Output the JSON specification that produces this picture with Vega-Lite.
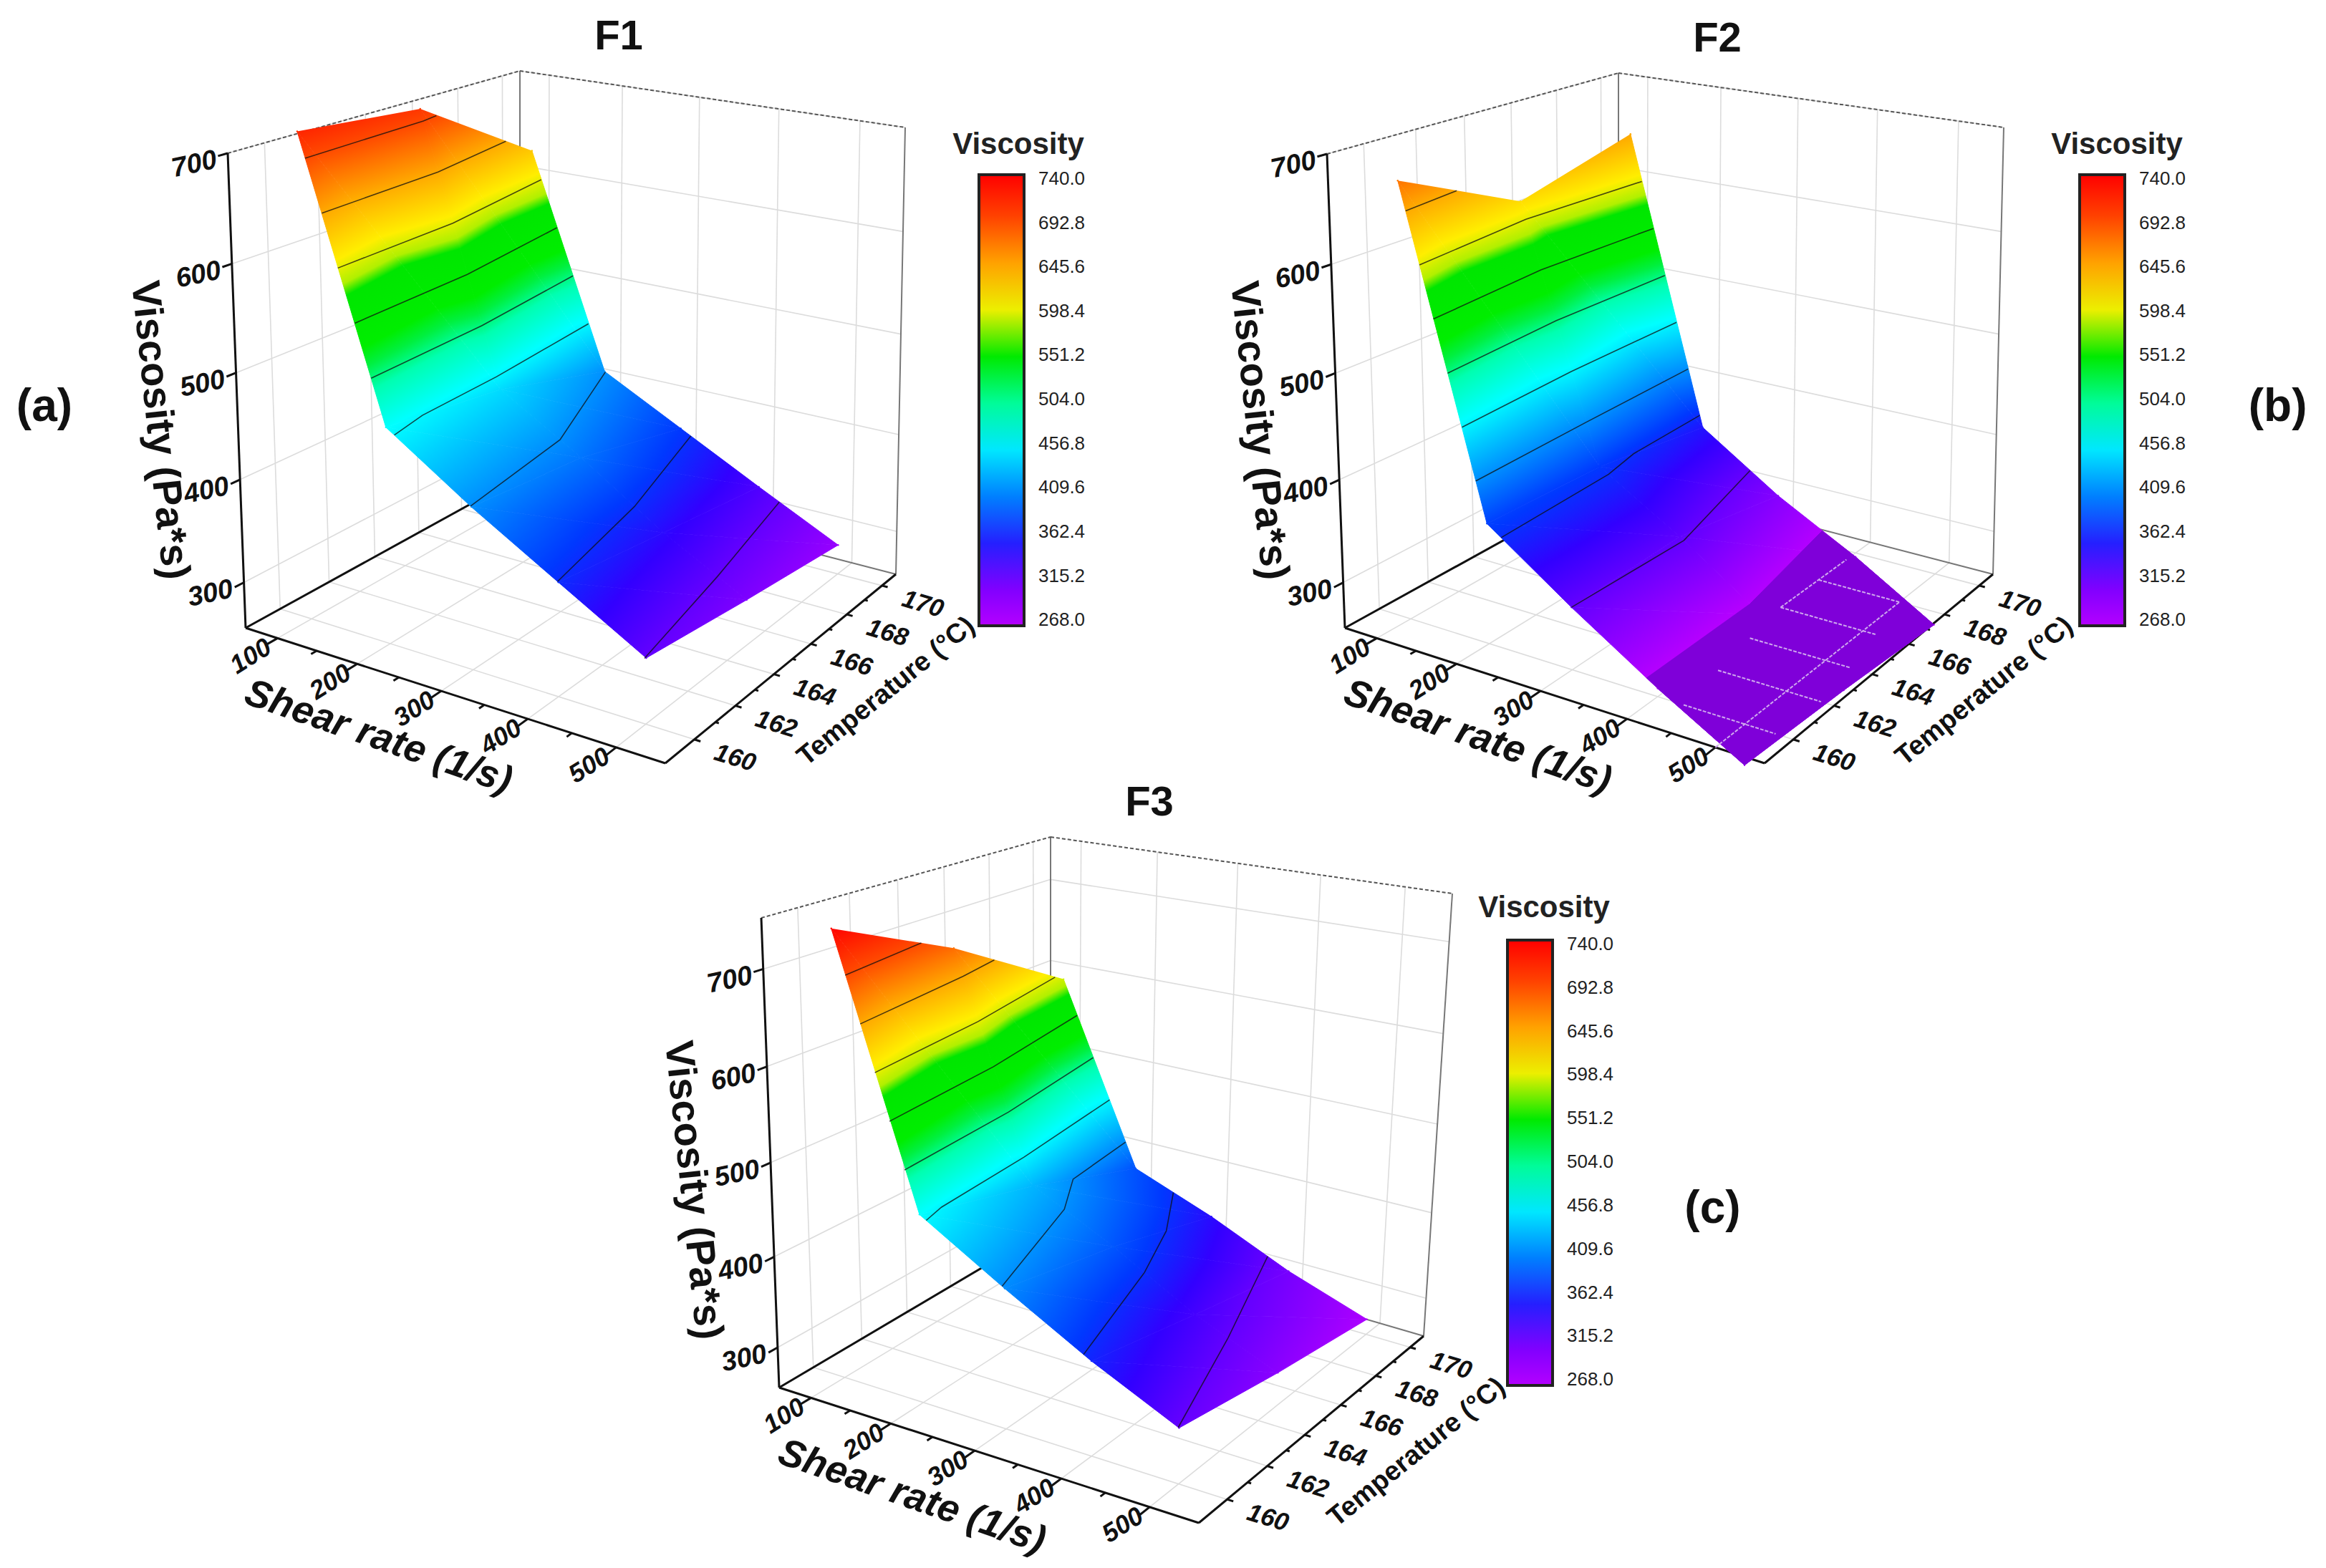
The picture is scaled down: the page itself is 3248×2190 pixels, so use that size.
{
"$schema":"https://vega.github.io/schema/vega-lite/v6.json",
"width":3248,"height":2190,"padding":0,"autosize":{"type":"none"},"background":"white",
"config":{"view":{"stroke":null},"font":"Liberation Sans"},
"params":[
{"name":"cube","value":{"F1":[343,877,929,1066,1251,802,726,666,318,214,937,331,1264,178,726,99,700],"F2":[1878,877,2464,1066,2783,802,2260,666,1853,215,2471,331,2798,178,2260,102,700],"F3":[1088,1938,1674,2127,1988,1866,1467,1714,1063,1282,1679,1422,2028,1248,1467,1169,752]}},
{"name":"stops","value":[{"offset":0,"color":"#b400ff"},{"offset":0.0996,"color":"#6400ff"},{"offset":0.1525,"color":"#3200ff"},{"offset":0.2119,"color":"#0038ff"},{"offset":0.3008,"color":"#0090ff"},{"offset":0.3644,"color":"#00d0ff"},{"offset":0.4089,"color":"#00ffff"},{"offset":0.4809,"color":"#00ffb0"},{"offset":0.5233,"color":"#00f040"},{"offset":0.5551,"color":"#00ee00"},{"offset":0.6504,"color":"#00e600"},{"offset":0.6716,"color":"#b0f000"},{"offset":0.714,"color":"#ffee00"},{"offset":0.7987,"color":"#ffaa00"},{"offset":0.9004,"color":"#ff4800"},{"offset":1,"color":"#ff0000"}]}
],
"data":{"values":[
{"k":"g","panel":"F1","shear":100,"temp":160,"visc":716},{"k":"g","panel":"F1","shear":100,"temp":165,"visc":704},{"k":"g","panel":"F1","shear":100,"temp":170,"visc":627},
{"k":"g","panel":"F1","shear":200,"temp":160,"visc":462},{"k":"g","panel":"F1","shear":200,"temp":165,"visc":445},{"k":"g","panel":"F1","shear":200,"temp":170,"visc":410},
{"k":"g","panel":"F1","shear":300,"temp":160,"visc":409},{"k":"g","panel":"F1","shear":300,"temp":165,"visc":397},{"k":"g","panel":"F1","shear":300,"temp":170,"visc":368},
{"k":"g","panel":"F1","shear":400,"temp":160,"visc":362},{"k":"g","panel":"F1","shear":400,"temp":165,"visc":344},{"k":"g","panel":"F1","shear":400,"temp":170,"visc":326},
{"k":"g","panel":"F1","shear":500,"temp":160,"visc":316},{"k":"g","panel":"F1","shear":500,"temp":165,"visc":300},{"k":"g","panel":"F1","shear":500,"temp":170,"visc":285},
{"k":"g","panel":"F2","shear":100,"temp":160,"visc":672},{"k":"g","panel":"F2","shear":100,"temp":165,"visc":615},{"k":"g","panel":"F2","shear":100,"temp":170,"visc":646},
{"k":"g","panel":"F2","shear":200,"temp":160,"visc":372},{"k":"g","panel":"F2","shear":200,"temp":165,"visc":368},{"k":"g","panel":"F2","shear":200,"temp":170,"visc":350},
{"k":"g","panel":"F2","shear":300,"temp":160,"visc":315},{"k":"g","panel":"F2","shear":300,"temp":165,"visc":318},{"k":"g","panel":"F2","shear":300,"temp":170,"visc":295},
{"k":"g","panel":"F2","shear":400,"temp":160,"visc":261},{"k":"g","panel":"F2","shear":400,"temp":165,"visc":260},{"k":"g","panel":"F2","shear":400,"temp":170,"visc":248},
{"k":"g","panel":"F2","shear":500,"temp":160,"visc":216},{"k":"g","panel":"F2","shear":500,"temp":165,"visc":210},{"k":"g","panel":"F2","shear":500,"temp":170,"visc":201},
{"k":"g","panel":"F3","shear":100,"temp":160,"visc":738},{"k":"g","panel":"F3","shear":100,"temp":165,"visc":675},{"k":"g","panel":"F3","shear":100,"temp":170,"visc":592},
{"k":"g","panel":"F3","shear":200,"temp":160,"visc":461},{"k":"g","panel":"F3","shear":200,"temp":165,"visc":427},{"k":"g","panel":"F3","shear":200,"temp":170,"visc":380},
{"k":"g","panel":"F3","shear":300,"temp":160,"visc":408},{"k":"g","panel":"F3","shear":300,"temp":165,"visc":382},{"k":"g","panel":"F3","shear":300,"temp":170,"visc":345},
{"k":"g","panel":"F3","shear":400,"temp":160,"visc":358},{"k":"g","panel":"F3","shear":400,"temp":165,"visc":331},{"k":"g","panel":"F3","shear":400,"temp":170,"visc":304},
{"k":"g","panel":"F3","shear":500,"temp":160,"visc":315},{"k":"g","panel":"F3","shear":500,"temp":165,"visc":292},{"k":"g","panel":"F3","shear":500,"temp":170,"visc":272},

{"k":"u","panel":"F2","o":0,"shear":387,"temp":160,"visc":268},{"k":"u","panel":"F2","o":1,"shear":386,"temp":165,"visc":268},{"k":"u","panel":"F2","o":2,"shear":357,"temp":170,"visc":268},{"k":"u","panel":"F2","o":3,"shear":400,"temp":170,"visc":248},{"k":"u","panel":"F2","o":4,"shear":500,"temp":170,"visc":201},{"k":"u","panel":"F2","o":5,"shear":500,"temp":165,"visc":210},{"k":"u","panel":"F2","o":6,"shear":500,"temp":160,"visc":216},{"k":"u","panel":"F2","o":7,"shear":400,"temp":160,"visc":261},

{"k":"c","panel":"F1","visc":692.8,"o":0,"shear":109,"temp":160},{"k":"c","panel":"F1","visc":692.8,"o":1,"shear":104,"temp":165},{"k":"c","panel":"F1","visc":692.8,"o":2,"shear":100,"temp":165.7},
{"k":"c","panel":"F1","visc":645.6,"o":0,"shear":128,"temp":160},{"k":"c","panel":"F1","visc":645.6,"o":1,"shear":122.5,"temp":165},{"k":"c","panel":"F1","visc":645.6,"o":2,"shear":100,"temp":168.8},
{"k":"c","panel":"F1","visc":598.4,"o":0,"shear":146,"temp":160},{"k":"c","panel":"F1","visc":598.4,"o":1,"shear":141,"temp":165},{"k":"c","panel":"F1","visc":598.4,"o":2,"shear":113,"temp":170},
{"k":"c","panel":"F1","visc":551.2,"o":0,"shear":165,"temp":160},{"k":"c","panel":"F1","visc":551.2,"o":1,"shear":159,"temp":165},{"k":"c","panel":"F1","visc":551.2,"o":2,"shear":135,"temp":170},
{"k":"c","panel":"F1","visc":504,"o":0,"shear":183.5,"temp":160},{"k":"c","panel":"F1","visc":504,"o":1,"shear":177,"temp":165},{"k":"c","panel":"F1","visc":504,"o":2,"shear":157,"temp":170},
{"k":"c","panel":"F1","visc":456.8,"o":0,"shear":210,"temp":160},{"k":"c","panel":"F1","visc":456.8,"o":1,"shear":200,"temp":161.5},{"k":"c","panel":"F1","visc":456.8,"o":2,"shear":195,"temp":165},{"k":"c","panel":"F1","visc":456.8,"o":3,"shear":178,"temp":170},
{"k":"c","panel":"F1","visc":409.6,"o":0,"shear":299,"temp":160},{"k":"c","panel":"F1","visc":409.6,"o":1,"shear":274,"temp":165},{"k":"c","panel":"F1","visc":409.6,"o":2,"shear":201,"temp":170},
{"k":"c","panel":"F1","visc":362.4,"o":0,"shear":399,"temp":160},{"k":"c","panel":"F1","visc":362.4,"o":1,"shear":365,"temp":165},{"k":"c","panel":"F1","visc":362.4,"o":2,"shear":313,"temp":170},
{"k":"c","panel":"F1","visc":315.2,"o":0,"shear":498,"temp":160},{"k":"c","panel":"F1","visc":315.2,"o":1,"shear":465,"temp":165},{"k":"c","panel":"F1","visc":315.2,"o":2,"shear":426,"temp":170},

{"k":"c","panel":"F2","visc":645.6,"o":0,"shear":109,"temp":160},{"k":"c","panel":"F2","visc":645.6,"o":1,"shear":100,"temp":162.3},
{"k":"c","panel":"F2","visc":598.4,"o":0,"shear":124.5,"temp":160},{"k":"c","panel":"F2","visc":598.4,"o":1,"shear":107,"temp":165},{"k":"c","panel":"F2","visc":598.4,"o":2,"shear":116,"temp":170},
{"k":"c","panel":"F2","visc":551.2,"o":0,"shear":140,"temp":160},{"k":"c","panel":"F2","visc":551.2,"o":1,"shear":126,"temp":165},{"k":"c","panel":"F2","visc":551.2,"o":2,"shear":132,"temp":170},
{"k":"c","panel":"F2","visc":504,"o":0,"shear":156,"temp":160},{"k":"c","panel":"F2","visc":504,"o":1,"shear":145,"temp":165},{"k":"c","panel":"F2","visc":504,"o":2,"shear":148,"temp":170},
{"k":"c","panel":"F2","visc":456.8,"o":0,"shear":172,"temp":160},{"k":"c","panel":"F2","visc":456.8,"o":1,"shear":164,"temp":165},{"k":"c","panel":"F2","visc":456.8,"o":2,"shear":164,"temp":170},
{"k":"c","panel":"F2","visc":409.6,"o":0,"shear":187.5,"temp":160},{"k":"c","panel":"F2","visc":409.6,"o":1,"shear":183,"temp":165},{"k":"c","panel":"F2","visc":409.6,"o":2,"shear":180,"temp":170},
{"k":"c","panel":"F2","visc":362.4,"o":0,"shear":217,"temp":160},{"k":"c","panel":"F2","visc":362.4,"o":1,"shear":211,"temp":165},{"k":"c","panel":"F2","visc":362.4,"o":2,"shear":200,"temp":166.6},{"k":"c","panel":"F2","visc":362.4,"o":3,"shear":196,"temp":170},
{"k":"c","panel":"F2","visc":315.2,"o":0,"shear":300,"temp":160},{"k":"c","panel":"F2","visc":315.2,"o":1,"shear":305,"temp":165},{"k":"c","panel":"F2","visc":315.2,"o":2,"shear":263,"temp":170},

{"k":"c","panel":"F3","visc":692.8,"o":0,"shear":116,"temp":160},{"k":"c","panel":"F3","visc":692.8,"o":1,"shear":100,"temp":163.6},
{"k":"c","panel":"F3","visc":645.6,"o":0,"shear":133,"temp":160},{"k":"c","panel":"F3","visc":645.6,"o":1,"shear":112,"temp":165},{"k":"c","panel":"F3","visc":645.6,"o":2,"shear":100,"temp":166.8},
{"k":"c","panel":"F3","visc":598.4,"o":0,"shear":149.5,"temp":160},{"k":"c","panel":"F3","visc":598.4,"o":1,"shear":131,"temp":165},{"k":"c","panel":"F3","visc":598.4,"o":2,"shear":100,"temp":169.6},
{"k":"c","panel":"F3","visc":551.2,"o":0,"shear":166,"temp":160},{"k":"c","panel":"F3","visc":551.2,"o":1,"shear":150,"temp":165},{"k":"c","panel":"F3","visc":551.2,"o":2,"shear":119,"temp":170},
{"k":"c","panel":"F3","visc":504,"o":0,"shear":183,"temp":160},{"k":"c","panel":"F3","visc":504,"o":1,"shear":169,"temp":165},{"k":"c","panel":"F3","visc":504,"o":2,"shear":141.5,"temp":170},
{"k":"c","panel":"F3","visc":456.8,"o":0,"shear":208,"temp":160},{"k":"c","panel":"F3","visc":456.8,"o":1,"shear":200,"temp":160.9},{"k":"c","panel":"F3","visc":456.8,"o":2,"shear":188,"temp":165},{"k":"c","panel":"F3","visc":456.8,"o":3,"shear":164,"temp":170},
{"k":"c","panel":"F3","visc":409.6,"o":0,"shear":297,"temp":160},{"k":"c","panel":"F3","visc":409.6,"o":1,"shear":239,"temp":165},{"k":"c","panel":"F3","visc":409.6,"o":2,"shear":200,"temp":166.9},{"k":"c","panel":"F3","visc":409.6,"o":3,"shear":186,"temp":170},
{"k":"c","panel":"F3","visc":362.4,"o":0,"shear":391,"temp":160},{"k":"c","panel":"F3","visc":362.4,"o":1,"shear":338,"temp":165},{"k":"c","panel":"F3","visc":362.4,"o":2,"shear":300,"temp":167.65},{"k":"c","panel":"F3","visc":362.4,"o":3,"shear":250,"temp":170},
{"k":"c","panel":"F3","visc":315.2,"o":0,"shear":499,"temp":160},{"k":"c","panel":"F3","visc":315.2,"o":1,"shear":440,"temp":165},{"k":"c","panel":"F3","visc":315.2,"o":2,"shear":373,"temp":170},

{"k":"og","panel":"F2","shear":400,"temp":168,"visc":252,"shear2":500,"temp2":168,"visc2":252},
{"k":"og","panel":"F2","shear":400,"temp":166,"visc":252,"shear2":515,"temp2":166,"visc2":252},
{"k":"og","panel":"F2","shear":410,"temp":164,"visc":252,"shear2":530,"temp2":164,"visc2":252},
{"k":"og","panel":"F2","shear":420,"temp":162,"visc":252,"shear2":540,"temp2":162,"visc2":252},
{"k":"og","panel":"F2","shear":430,"temp":160,"visc":252,"shear2":535,"temp2":160,"visc2":252},
{"k":"og","panel":"F2","shear":500,"temp":158.8,"visc":252,"shear2":500,"temp2":168,"visc2":252},
{"k":"og","panel":"F2","shear":400,"temp":166,"visc":252,"shear2":400,"temp2":169.5,"visc2":252},

{"k":"grid","panel":"all","shear":100,"temp":158.8,"visc":252,"shear2":100,"temp2":170.8,"visc2":252},
{"k":"grid","panel":"all","shear":200,"temp":158.8,"visc":252,"shear2":200,"temp2":170.8,"visc2":252},
{"k":"grid","panel":"all","shear":300,"temp":158.8,"visc":252,"shear2":300,"temp2":170.8,"visc2":252},
{"k":"grid","panel":"all","shear":400,"temp":158.8,"visc":252,"shear2":400,"temp2":170.8,"visc2":252},
{"k":"grid","panel":"all","shear":500,"temp":158.8,"visc":252,"shear2":500,"temp2":170.8,"visc2":252},
{"k":"grid","panel":"all","shear":55,"temp":160,"visc":252,"shear2":555,"temp2":160,"visc2":252},
{"k":"grid","panel":"all","shear":55,"temp":162,"visc":252,"shear2":555,"temp2":162,"visc2":252},
{"k":"grid","panel":"all","shear":55,"temp":164,"visc":252,"shear2":555,"temp2":164,"visc2":252},
{"k":"grid","panel":"all","shear":55,"temp":166,"visc":252,"shear2":555,"temp2":166,"visc2":252},
{"k":"grid","panel":"all","shear":55,"temp":168,"visc":252,"shear2":555,"temp2":168,"visc2":252},
{"k":"grid","panel":"all","shear":55,"temp":170,"visc":252,"shear2":555,"temp2":170,"visc2":252},
{"k":"grid","panel":"all","shear":100,"temp":170.8,"visc":252,"shear2":100,"temp2":170.8,"visc2":null},
{"k":"grid","panel":"all","shear":200,"temp":170.8,"visc":252,"shear2":200,"temp2":170.8,"visc2":null},
{"k":"grid","panel":"all","shear":300,"temp":170.8,"visc":252,"shear2":300,"temp2":170.8,"visc2":null},
{"k":"grid","panel":"all","shear":400,"temp":170.8,"visc":252,"shear2":400,"temp2":170.8,"visc2":null},
{"k":"grid","panel":"all","shear":500,"temp":170.8,"visc":252,"shear2":500,"temp2":170.8,"visc2":null},
{"k":"grid","panel":"all","shear":55,"temp":170.8,"visc":300,"shear2":555,"temp2":170.8,"visc2":300},
{"k":"grid","panel":"all","shear":55,"temp":170.8,"visc":400,"shear2":555,"temp2":170.8,"visc2":400},
{"k":"grid","panel":"all","shear":55,"temp":170.8,"visc":500,"shear2":555,"temp2":170.8,"visc2":500},
{"k":"grid","panel":"all","shear":55,"temp":170.8,"visc":600,"shear2":555,"temp2":170.8,"visc2":600},
{"k":"grid","panel":"all","shear":55,"temp":170.8,"visc":700,"shear2":555,"temp2":170.8,"visc2":700},
{"k":"grid","panel":"all","shear":55,"temp":160,"visc":252,"shear2":55,"temp2":160,"visc2":null},
{"k":"grid","panel":"all","shear":55,"temp":162,"visc":252,"shear2":55,"temp2":162,"visc2":null},
{"k":"grid","panel":"all","shear":55,"temp":164,"visc":252,"shear2":55,"temp2":164,"visc2":null},
{"k":"grid","panel":"all","shear":55,"temp":166,"visc":252,"shear2":55,"temp2":166,"visc2":null},
{"k":"grid","panel":"all","shear":55,"temp":168,"visc":252,"shear2":55,"temp2":168,"visc2":null},
{"k":"grid","panel":"all","shear":55,"temp":170,"visc":252,"shear2":55,"temp2":170,"visc2":null},
{"k":"grid","panel":"all","shear":55,"temp":158.8,"visc":300,"shear2":55,"temp2":170.8,"visc2":300},
{"k":"grid","panel":"all","shear":55,"temp":158.8,"visc":400,"shear2":55,"temp2":170.8,"visc2":400},
{"k":"grid","panel":"all","shear":55,"temp":158.8,"visc":500,"shear2":55,"temp2":170.8,"visc2":500},
{"k":"grid","panel":"all","shear":55,"temp":158.8,"visc":600,"shear2":55,"temp2":170.8,"visc2":600},
{"k":"grid","panel":"all","shear":55,"temp":158.8,"visc":700,"shear2":55,"temp2":170.8,"visc2":700},

{"k":"ea","panel":"all","shear":55,"temp":158.8,"visc":252,"shear2":55,"temp2":158.8,"visc2":null},
{"k":"ea","panel":"all","shear":55,"temp":158.8,"visc":252,"shear2":555,"temp2":158.8,"visc2":252},
{"k":"ea","panel":"all","shear":555,"temp":158.8,"visc":252,"shear2":555,"temp2":170.8,"visc2":252},
{"k":"ea","panel":"all","shear":55,"temp":158.8,"visc":252,"shear2":55,"temp2":170.8,"visc2":252},
{"k":"eg","panel":"all","shear":55,"temp":170.8,"visc":252,"shear2":55,"temp2":170.8,"visc2":null},
{"k":"eg","panel":"all","shear":55,"temp":170.8,"visc":252,"shear2":555,"temp2":170.8,"visc2":252},
{"k":"eg","panel":"all","shear":555,"temp":170.8,"visc":252,"shear2":555,"temp2":170.8,"visc2":null},
{"k":"ed","panel":"all","shear":55,"temp":158.8,"visc":null,"shear2":55,"temp2":170.8,"visc2":null},
{"k":"ed","panel":"all","shear":55,"temp":170.8,"visc":null,"shear2":555,"temp2":170.8,"visc2":null},

{"k":"ea","panel":"all","shear":100,"temp":158.8,"visc":252,"shear2":100,"temp2":158.3,"visc2":252},
{"k":"ea","panel":"all","shear":200,"temp":158.8,"visc":252,"shear2":200,"temp2":158.3,"visc2":252},
{"k":"ea","panel":"all","shear":300,"temp":158.8,"visc":252,"shear2":300,"temp2":158.3,"visc2":252},
{"k":"ea","panel":"all","shear":400,"temp":158.8,"visc":252,"shear2":400,"temp2":158.3,"visc2":252},
{"k":"ea","panel":"all","shear":500,"temp":158.8,"visc":252,"shear2":500,"temp2":158.3,"visc2":252},
{"k":"ea","panel":"all","shear":150,"temp":158.8,"visc":252,"shear2":150,"temp2":158.55,"visc2":252},
{"k":"ea","panel":"all","shear":250,"temp":158.8,"visc":252,"shear2":250,"temp2":158.55,"visc2":252},
{"k":"ea","panel":"all","shear":350,"temp":158.8,"visc":252,"shear2":350,"temp2":158.55,"visc2":252},
{"k":"ea","panel":"all","shear":450,"temp":158.8,"visc":252,"shear2":450,"temp2":158.55,"visc2":252},
{"k":"ea","panel":"all","shear":555,"temp":160,"visc":252,"shear2":562,"temp2":160,"visc2":252},
{"k":"ea","panel":"all","shear":555,"temp":162,"visc":252,"shear2":562,"temp2":162,"visc2":252},
{"k":"ea","panel":"all","shear":555,"temp":164,"visc":252,"shear2":562,"temp2":164,"visc2":252},
{"k":"ea","panel":"all","shear":555,"temp":166,"visc":252,"shear2":562,"temp2":166,"visc2":252},
{"k":"ea","panel":"all","shear":555,"temp":168,"visc":252,"shear2":562,"temp2":168,"visc2":252},
{"k":"ea","panel":"all","shear":555,"temp":170,"visc":252,"shear2":562,"temp2":170,"visc2":252},
{"k":"ea","panel":"all","shear":555,"temp":161,"visc":252,"shear2":559,"temp2":161,"visc2":252},
{"k":"ea","panel":"all","shear":555,"temp":163,"visc":252,"shear2":559,"temp2":163,"visc2":252},
{"k":"ea","panel":"all","shear":555,"temp":165,"visc":252,"shear2":559,"temp2":165,"visc2":252},
{"k":"ea","panel":"all","shear":555,"temp":167,"visc":252,"shear2":559,"temp2":167,"visc2":252},
{"k":"ea","panel":"all","shear":555,"temp":169,"visc":252,"shear2":559,"temp2":169,"visc2":252},
{"k":"ea","panel":"all","shear":55,"temp":158.8,"visc":300,"shear2":55,"temp2":158.4,"visc2":300},
{"k":"ea","panel":"all","shear":55,"temp":158.8,"visc":400,"shear2":55,"temp2":158.4,"visc2":400},
{"k":"ea","panel":"all","shear":55,"temp":158.8,"visc":500,"shear2":55,"temp2":158.4,"visc2":500},
{"k":"ea","panel":"all","shear":55,"temp":158.8,"visc":600,"shear2":55,"temp2":158.4,"visc2":600},
{"k":"ea","panel":"all","shear":55,"temp":158.8,"visc":700,"shear2":55,"temp2":158.4,"visc2":700},

{"k":"ls","panel":"all","shear":100,"temp":158.8,"visc":252,"label":"100"},{"k":"ls","panel":"all","shear":200,"temp":158.8,"visc":252,"label":"200"},{"k":"ls","panel":"all","shear":300,"temp":158.8,"visc":252,"label":"300"},{"k":"ls","panel":"all","shear":400,"temp":158.8,"visc":252,"label":"400"},{"k":"ls","panel":"all","shear":500,"temp":158.8,"visc":252,"label":"500"},
{"k":"lt","panel":"all","shear":555,"temp":160,"visc":252,"label":"160"},{"k":"lt","panel":"all","shear":555,"temp":162,"visc":252,"label":"162"},{"k":"lt","panel":"all","shear":555,"temp":164,"visc":252,"label":"164"},{"k":"lt","panel":"all","shear":555,"temp":166,"visc":252,"label":"166"},{"k":"lt","panel":"all","shear":555,"temp":168,"visc":252,"label":"168"},{"k":"lt","panel":"all","shear":555,"temp":170,"visc":252,"label":"170"},
{"k":"lz","panel":"all","shear":55,"temp":158.8,"visc":300,"label":"300"},{"k":"lz","panel":"all","shear":55,"temp":158.8,"visc":400,"label":"400"},{"k":"lz","panel":"all","shear":55,"temp":158.8,"visc":500,"label":"500"},{"k":"lz","panel":"all","shear":55,"temp":158.8,"visc":600,"label":"600"},{"k":"lz","panel":"all","shear":55,"temp":158.8,"visc":700,"label":"700"},
{"k":"tz","panel":"F1","shear":55,"temp":158.8,"visc":475,"label":"Viscosity (Pa*s)"},{"k":"tz","panel":"F2","shear":55,"temp":158.8,"visc":475,"label":"Viscosity (Pa*s)"},{"k":"tz","panel":"F3","shear":55,"temp":158.8,"visc":503,"label":"Viscosity (Pa*s)"},
{"k":"ts","panel":"all","shear":300,"temp":158.8,"visc":252,"label":"Shear rate (1/s)"},
{"k":"tt","panel":"all","shear":555,"temp":165,"visc":252,"label":"Temperature (°C)"},
{"k":"vt","panel":"F1","shear":555,"temp":170.8,"visc":null,"label":"Viscosity"},{"k":"vt","panel":"F2","shear":555,"temp":170.8,"visc":null,"label":"Viscosity"},{"k":"vt","panel":"F3","shear":530,"temp":170.8,"visc":null,"label":"Viscosity"},
{"k":"tf","panel":"F1","shear":55,"temp":170.8,"visc":null,"label":"F1"},{"k":"tf","panel":"F2","shear":55,"temp":170.8,"visc":null,"label":"F2"},{"k":"tf","panel":"F3","shear":55,"temp":170.8,"visc":null,"label":"F3"},
{"k":"pa","panel":"F1","shear":55,"temp":158.8,"visc":475,"label":"(a)"},
{"k":"pb","panel":"F2","shear":555,"temp":170.8,"visc":427,"label":"(b)"},
{"k":"pb","panel":"F3","shear":555,"temp":170.8,"visc":404,"label":"(c)"}
]},
"transform":[
{"calculate":"datum.panel==='all'?['F1','F2','F3']:[datum.panel]","as":"fig"},
{"flatten":["fig"]},
{"calculate":"cube[datum.fig]","as":"c"},
{"calculate":"pow(max(0,(datum.shear-55)/500),1.07)","as":"u"},
{"calculate":"(datum.temp-158.8)/12<=0?(datum.temp-158.8)/12:pow((datum.temp-158.8)/12,0.9)","as":"w"},
{"calculate":"((datum.visc===null?datum.c[16]:datum.visc)-252)/(datum.c[16]-252)","as":"hx"},
{"calculate":"datum.hx<=0?datum.hx:pow(datum.hx,1.05)","as":"h"},
{"calculate":"pow(max(0,(datum.shear2-55)/500),1.07)","as":"u2"},
{"calculate":"(datum.temp2-158.8)/12<=0?(datum.temp2-158.8)/12:pow((datum.temp2-158.8)/12,0.9)","as":"w2"},
{"calculate":"((datum.visc2===null?datum.c[16]:datum.visc2)-252)/(datum.c[16]-252)","as":"hx2"},
{"calculate":"datum.hx2<=0?datum.hx2:pow(datum.hx2,1.05)","as":"h2"},
{"calculate":"(1-datum.h)*((1-datum.u)*(1-datum.w)*datum.c[0]+datum.u*(1-datum.w)*datum.c[2]+datum.u*datum.w*datum.c[4]+(1-datum.u)*datum.w*datum.c[6])+datum.h*((1-datum.u)*(1-datum.w)*datum.c[8]+datum.u*(1-datum.w)*datum.c[10]+datum.u*datum.w*datum.c[12]+(1-datum.u)*datum.w*datum.c[14])","as":"px"},
{"calculate":"(1-datum.h)*((1-datum.u)*(1-datum.w)*datum.c[1]+datum.u*(1-datum.w)*datum.c[3]+datum.u*datum.w*datum.c[5]+(1-datum.u)*datum.w*datum.c[7])+datum.h*((1-datum.u)*(1-datum.w)*datum.c[9]+datum.u*(1-datum.w)*datum.c[11]+datum.u*datum.w*datum.c[13]+(1-datum.u)*datum.w*datum.c[15])","as":"py"},
{"calculate":"(1-datum.h2)*((1-datum.u2)*(1-datum.w2)*datum.c[0]+datum.u2*(1-datum.w2)*datum.c[2]+datum.u2*datum.w2*datum.c[4]+(1-datum.u2)*datum.w2*datum.c[6])+datum.h2*((1-datum.u2)*(1-datum.w2)*datum.c[8]+datum.u2*(1-datum.w2)*datum.c[10]+datum.u2*datum.w2*datum.c[12]+(1-datum.u2)*datum.w2*datum.c[14])","as":"px2"},
{"calculate":"(1-datum.h2)*((1-datum.u2)*(1-datum.w2)*datum.c[1]+datum.u2*(1-datum.w2)*datum.c[3]+datum.u2*datum.w2*datum.c[5]+(1-datum.u2)*datum.w2*datum.c[7])+datum.h2*((1-datum.u2)*(1-datum.w2)*datum.c[9]+datum.u2*(1-datum.w2)*datum.c[11]+datum.u2*datum.w2*datum.c[13]+(1-datum.u2)*datum.w2*datum.c[15])","as":"py2"}
],
"encoding":{
"x":{"field":"px","type":"quantitative","scale":{"domain":[0,3248],"nice":false,"zero":false},"axis":null},
"y":{"field":"py","type":"quantitative","scale":{"domain":[2190,0],"nice":false,"zero":false},"axis":null}
},
"layer":[
{"transform":[{"filter":"datum.k==='grid'"}],"mark":{"type":"rule","stroke":"#dcdcdc","strokeWidth":1.6},"encoding":{"x2":{"field":"px2"},"y2":{"field":"py2"}}},
{"transform":[{"filter":"datum.k==='eg'"}],"mark":{"type":"rule","stroke":"#777777","strokeWidth":2},"encoding":{"x2":{"field":"px2"},"y2":{"field":"py2"}}},
{"transform":[{"filter":"datum.k==='ed'"}],"mark":{"type":"rule","stroke":"#555555","strokeWidth":2,"strokeDash":[5,3]},"encoding":{"x2":{"field":"px2"},"y2":{"field":"py2"}}},
{"transform":[{"filter":"datum.k==='ea'"}],"mark":{"type":"rule","stroke":"#111111","strokeWidth":3},"encoding":{"x2":{"field":"px2"},"y2":{"field":"py2"}}},
{"transform":[
{"filter":"datum.k==='g'"},
{"calculate":"round(datum.shear/100)-1","as":"si"},
{"calculate":"round((datum.temp-160)/5)","as":"ti"},
{"calculate":"(datum.si<=3&&datum.ti<=1)?datum.si*10+datum.ti:-1","as":"c0"},
{"calculate":"(datum.si>=1&&datum.ti<=1)?(datum.si-1)*10+datum.ti:-1","as":"c1"},
{"calculate":"(datum.si>=1&&datum.ti>=1)?(datum.si-1)*10+datum.ti-1:-1","as":"c2"},
{"calculate":"(datum.si<=3&&datum.ti>=1)?datum.si*10+datum.ti-1:-1","as":"c3"},
{"calculate":"[datum.c0<0?-1:datum.c0*10,datum.c0<0?-1:datum.c0*10+1,datum.c1<0?-1:datum.c1*10,datum.c2<0?-1:datum.c2*10,datum.c2<0?-1:datum.c2*10+1,datum.c3<0?-1:datum.c3*10+1]","as":"q"},
{"calculate":"[0,0,1,2,1,2]","as":"o"},
{"flatten":["q","o"]},
{"filter":"datum.q>=0"},
{"calculate":"datum.fig+'_'+datum.q","as":"cell"},
{"joinaggregate":[{"op":"min","field":"px","as":"minx"},{"op":"max","field":"px","as":"maxx"},{"op":"min","field":"py","as":"miny"},{"op":"max","field":"py","as":"maxy"}],"groupby":["cell"]},
{"calculate":"(datum.px-datum.minx)/(datum.maxx-datum.minx)","as":"a"},
{"calculate":"(datum.py-datum.miny)/(datum.maxy-datum.miny)","as":"b"},
{"calculate":"datum.a*datum.a","as":"aa"},{"calculate":"datum.a*datum.b","as":"ab"},{"calculate":"datum.b*datum.b","as":"bb"},
{"calculate":"datum.a*datum.visc","as":"av"},{"calculate":"datum.b*datum.visc","as":"bv"},
{"joinaggregate":[{"op":"mean","field":"a","as":"ma"},{"op":"mean","field":"b","as":"mb"},{"op":"mean","field":"visc","as":"mv"},{"op":"mean","field":"aa","as":"maa"},{"op":"mean","field":"ab","as":"mab"},{"op":"mean","field":"bb","as":"mbb"},{"op":"mean","field":"av","as":"mav"},{"op":"mean","field":"bv","as":"mbv"}],"groupby":["cell"]},
{"calculate":"datum.maa-datum.ma*datum.ma","as":"Saa"},{"calculate":"datum.mab-datum.ma*datum.mb","as":"Sab"},{"calculate":"datum.mbb-datum.mb*datum.mb","as":"Sbb"},
{"calculate":"datum.mav-datum.ma*datum.mv","as":"Sav"},{"calculate":"datum.mbv-datum.mb*datum.mv","as":"Sbv"},
{"calculate":"datum.Saa*datum.Sbb-datum.Sab*datum.Sab","as":"det"},
{"calculate":"(datum.Sav*datum.Sbb-datum.Sbv*datum.Sab)/datum.det","as":"GA"},
{"calculate":"(datum.Sbv*datum.Saa-datum.Sav*datum.Sab)/datum.det","as":"GB"},
{"calculate":"datum.GA*datum.GA+datum.GB*datum.GB","as":"GD"},
{"calculate":"{gradient:'linear',x1:datum.ma+datum.GA/datum.GD*(268-datum.mv),y1:datum.mb+datum.GB/datum.GD*(268-datum.mv),x2:datum.ma+datum.GA/datum.GD*(740-datum.mv),y2:datum.mb+datum.GB/datum.GD*(740-datum.mv),stops:stops}","as":"paint"}
],
"mark":{"type":"line","strokeWidth":1,"interpolate":"linear"},
"encoding":{"detail":{"field":"cell"},"order":{"field":"o","type":"quantitative"},"fill":{"field":"paint","type":"nominal","scale":null,"legend":null},"stroke":{"field":"paint","type":"nominal","scale":null,"legend":null}}},
{"transform":[{"filter":"datum.k==='g'&&datum.fig==='F1'"}],"mark":{"type":"circle","size":6,"opacity":1},
"encoding":{"color":{"field":"visc","type":"quantitative","scale":{"clamp":true,"domain":[262,268,315,340,368,410,440,461,495,515,530,575,585,605,645,693,740,744.6],"range":["#b400ff","#b400ff","#6400ff","#3200ff","#0038ff","#0090ff","#00d0ff","#00ffff","#00ffb0","#00f040","#00ee00","#00e600","#b0f000","#ffee00","#ffaa00","#ff4800","#ff0000","#ff0000"]},
"legend":{"orient":"none","legendX":1367,"legendY":244,"title":null,"gradientLength":630,"gradientThickness":63,"gradientStrokeColor":"#222222","gradientStrokeWidth":4,"values":[268,315.2,362.4,409.6,456.8,504,551.2,598.4,645.6,692.8,740],"format":".1f","labelFontSize":26,"labelColor":"#222222","labelOffset":20,"labelOverlap":false,"labelSeparation":0}}}},
{"transform":[{"filter":"datum.k==='g'&&datum.fig==='F2'"}],"mark":{"type":"circle","size":6,"opacity":1},
"encoding":{"color":{"field":"visc","type":"quantitative","scale":{"clamp":true,"domain":[262,268,315,340,368,410,440,461,495,515,530,575,585,605,645,693,740,744.6],"range":["#b400ff","#b400ff","#6400ff","#3200ff","#0038ff","#0090ff","#00d0ff","#00ffff","#00ffb0","#00f040","#00ee00","#00e600","#b0f000","#ffee00","#ffaa00","#ff4800","#ff0000","#ff0000"]},
"legend":{"orient":"none","legendX":2904,"legendY":244,"title":null,"gradientLength":630,"gradientThickness":63,"gradientStrokeColor":"#222222","gradientStrokeWidth":4,"values":[268,315.2,362.4,409.6,456.8,504,551.2,598.4,645.6,692.8,740],"format":".1f","labelFontSize":26,"labelColor":"#222222","labelOffset":20,"labelOverlap":false,"labelSeparation":0}}}},
{"transform":[{"filter":"datum.k==='g'&&datum.fig==='F3'"}],"mark":{"type":"circle","size":6,"opacity":1},
"encoding":{"color":{"field":"visc","type":"quantitative","scale":{"clamp":true,"domain":[262,268,315,340,368,410,440,461,495,515,530,575,585,605,645,693,740,744.6],"range":["#b400ff","#b400ff","#6400ff","#3200ff","#0038ff","#0090ff","#00d0ff","#00ffff","#00ffb0","#00f040","#00ee00","#00e600","#b0f000","#ffee00","#ffaa00","#ff4800","#ff0000","#ff0000"]},
"legend":{"orient":"none","legendX":2105,"legendY":1313,"title":null,"gradientLength":622,"gradientThickness":63,"gradientStrokeColor":"#222222","gradientStrokeWidth":4,"values":[268,315.2,362.4,409.6,456.8,504,551.2,598.4,645.6,692.8,740],"format":".1f","labelFontSize":26,"labelColor":"#222222","labelOffset":20,"labelOverlap":false,"labelSeparation":0}}}},
{"transform":[{"filter":"datum.k==='u'"}],"mark":{"type":"line","fill":"#7f00d9","stroke":"#7f00d9","strokeWidth":1},"encoding":{"order":{"field":"o","type":"quantitative"}}},
{"transform":[{"filter":"datum.k==='og'"}],"mark":{"type":"rule","stroke":"#cfa8ee","strokeWidth":2,"strokeDash":[5,2]},"encoding":{"x2":{"field":"px2"},"y2":{"field":"py2"}}},
{"transform":[{"filter":"datum.k==='c'"}],"mark":{"type":"line","stroke":"#101010","strokeWidth":1.6,"opacity":0.75},"encoding":{"detail":[{"field":"fig"},{"field":"visc"}],"order":{"field":"o","type":"quantitative"}}},
{"transform":[{"filter":"datum.k==='ls'"}],"mark":{"type":"text","font":"Liberation Sans","fontWeight":"bold","fontStyle":"italic","fontSize":36,"angle":-32,"dx":-45,"dy":2,"color":"#111111"},"encoding":{"text":{"field":"label"}}},
{"transform":[{"filter":"datum.k==='lt'"}],"mark":{"type":"text","font":"Liberation Sans","fontWeight":"bold","fontStyle":"italic","fontSize":35,"angle":17,"dx":62,"dy":8,"color":"#111111"},"encoding":{"text":{"field":"label"}}},
{"transform":[{"filter":"datum.k==='lz'"}],"mark":{"type":"text","font":"Liberation Sans","fontWeight":"bold","fontStyle":"italic","fontSize":38,"angle":-12,"dx":-49,"dy":6,"color":"#111111"},"encoding":{"text":{"field":"label"}}},
{"transform":[{"filter":"datum.k==='tz'"}],"mark":{"type":"text","font":"Liberation Sans","fontWeight":"bold","fontSize":56,"angle":84,"dx":31,"dy":112,"color":"#111111"},"encoding":{"text":{"field":"label"}}},
{"transform":[{"filter":"datum.k==='ts'"}],"mark":{"type":"text","font":"Liberation Sans","fontWeight":"bold","fontStyle":"italic","fontSize":54,"angle":19,"dx":-62,"dy":90,"color":"#111111"},"encoding":{"text":{"field":"label"}}},
{"transform":[{"filter":"datum.k==='tt'"}],"mark":{"type":"text","font":"Liberation Sans","fontWeight":"bold","fontSize":38,"angle":-39,"dx":73,"dy":118,"color":"#111111"},"encoding":{"text":{"field":"label"}}},
{"transform":[{"filter":"datum.k==='vt'"}],"mark":{"type":"text","font":"Liberation Sans","fontWeight":"bold","fontSize":42,"dx":158,"dy":24,"color":"#222222"},"encoding":{"text":{"field":"label"}}},
{"transform":[{"filter":"datum.k==='tf'"}],"mark":{"type":"text","font":"Liberation Sans","fontWeight":"bold","fontSize":58,"dx":138,"dy":-47,"color":"#111111"},"encoding":{"text":{"field":"label"}}},
{"transform":[{"filter":"datum.k==='pa'"}],"mark":{"type":"text","font":"Liberation Sans","fontWeight":"bold","fontSize":64,"dx":-269,"dy":11,"color":"#111111"},"encoding":{"text":{"field":"label"}}},
{"transform":[{"filter":"datum.k==='pb'"}],"mark":{"type":"text","font":"Liberation Sans","fontWeight":"bold","fontSize":64,"dx":392,"dy":0,"color":"#111111"},"encoding":{"text":{"field":"label"}}}
],
"resolve":{"scale":{"color":"independent"},"legend":{"color":"independent"}}
}
